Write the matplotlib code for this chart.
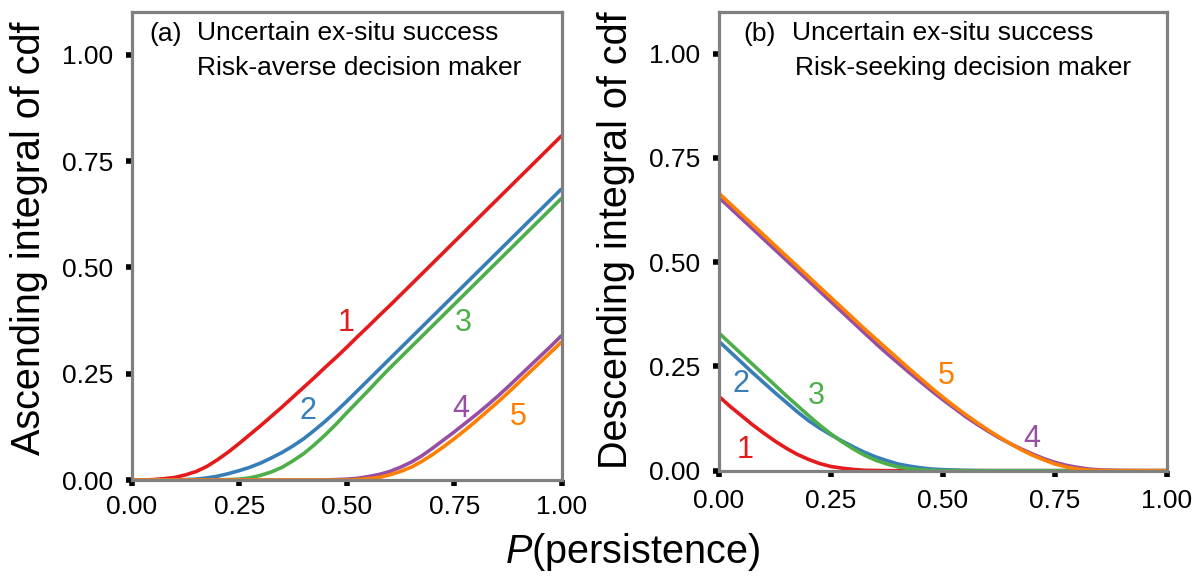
import matplotlib.pyplot as plt

plt.rcParams['font.family'] = ['Liberation Sans', 'DejaVu Sans']
plt.rcParams['mathtext.fontset'] = 'custom'
plt.rcParams['mathtext.it'] = 'Liberation Sans:italic'
plt.rcParams['mathtext.rm'] = 'Liberation Sans'

# values
x = [0.0, 0.025, 0.05, 0.075, 0.1, 0.125, 0.15, 0.175, 0.2, 0.225,
     0.25, 0.275, 0.3, 0.325, 0.35, 0.375, 0.4, 0.425, 0.45, 0.475,
     0.5, 0.525, 0.55, 0.575, 0.6, 0.625, 0.65, 0.675, 0.7, 0.725,
     0.75, 0.775, 0.8, 0.825, 0.85, 0.875, 0.9, 0.925, 0.95, 0.975, 1.0]

# (a) ascending integral of cdf, risk-averse
asc_1 = [0.0, 0.0, 0.001, 0.003, 0.006, 0.012, 0.02, 0.032, 0.048, 0.066,
         0.086, 0.107, 0.128, 0.15, 0.172, 0.195, 0.218, 0.241, 0.265, 0.288,
         0.312, 0.337, 0.361, 0.386, 0.41, 0.435, 0.46, 0.485, 0.51, 0.535,
         0.56, 0.585, 0.61, 0.635, 0.66, 0.685, 0.71, 0.735, 0.76, 0.785, 0.81]
asc_2 = [0.0, 0.0, 0.0, 0.0, 0.0, 0.001, 0.002, 0.005, 0.009, 0.015,
         0.022, 0.03, 0.04, 0.052, 0.065, 0.08, 0.097, 0.117, 0.138, 0.161,
         0.185, 0.21, 0.235, 0.26, 0.285, 0.31, 0.335, 0.36, 0.385, 0.41,
         0.435, 0.46, 0.485, 0.51, 0.535, 0.56, 0.585, 0.61, 0.635, 0.66, 0.685]
asc_3 = [0.0, 0.0, 0.0, 0.0, 0.0, 0.0, 0.0, 0.0, 0.0, 0.001,
         0.002, 0.005, 0.011, 0.019, 0.03, 0.045, 0.062, 0.083, 0.106, 0.131,
         0.158, 0.184, 0.21, 0.237, 0.263, 0.288, 0.313, 0.338, 0.363, 0.388,
         0.413, 0.438, 0.463, 0.488, 0.513, 0.538, 0.563, 0.588, 0.613, 0.638, 0.663]
asc_4 = [0.0, 0.0, 0.0, 0.0, 0.0, 0.0, 0.0, 0.0, 0.0, 0.0,
         0.0, 0.0, 0.0, 0.0, 0.0, 0.0, 0.0, 0.0, 0.0, 0.001,
         0.002, 0.004, 0.008, 0.013, 0.02, 0.03, 0.042, 0.057, 0.075, 0.094,
         0.113, 0.133, 0.153, 0.174, 0.196, 0.219, 0.243, 0.267, 0.291, 0.315, 0.34]
asc_5 = [0.0, 0.0, 0.0, 0.0, 0.0, 0.0, 0.0, 0.0, 0.0, 0.0,
         0.0, 0.0, 0.0, 0.0, 0.0, 0.0, 0.0, 0.0, 0.0, 0.0,
         0.0, 0.001, 0.003, 0.006, 0.012, 0.02, 0.03, 0.044, 0.06, 0.078,
         0.097, 0.117, 0.138, 0.16, 0.182, 0.205, 0.229, 0.253, 0.277, 0.301, 0.325]

# (b) descending integral of cdf, risk-seeking
desc_1 = [0.178, 0.154, 0.132, 0.11, 0.09, 0.071, 0.054, 0.039, 0.027, 0.017,
          0.01, 0.006, 0.003, 0.001, 0.0005, 0.0, 0.0, 0.0, 0.0, 0.0,
          0.0, 0.0, 0.0, 0.0, 0.0, 0.0, 0.0, 0.0, 0.0, 0.0,
          0.0, 0.0, 0.0, 0.0, 0.0, 0.0, 0.0, 0.0, 0.0, 0.0, 0.0]
desc_2 = [0.31, 0.285, 0.26, 0.235, 0.211, 0.187, 0.164, 0.141, 0.12, 0.102,
          0.086, 0.071, 0.057, 0.044, 0.033, 0.024, 0.016, 0.011, 0.007, 0.004,
          0.0025, 0.0015, 0.0008, 0.0003, 0.0, 0.0, 0.0, 0.0, 0.0, 0.0,
          0.0, 0.0, 0.0, 0.0, 0.0, 0.0, 0.0, 0.0, 0.0, 0.0, 0.0]
desc_3 = [0.33, 0.305, 0.28, 0.255, 0.23, 0.205, 0.18, 0.156, 0.132, 0.109,
          0.088, 0.069, 0.052, 0.037, 0.025, 0.016, 0.009, 0.005, 0.002, 0.001,
          0.0, 0.0, 0.0, 0.0, 0.0, 0.0, 0.0, 0.0, 0.0, 0.0,
          0.0, 0.0, 0.0, 0.0, 0.0, 0.0, 0.0, 0.0, 0.0, 0.0, 0.0]
desc_4 = [0.655, 0.63, 0.605, 0.58, 0.555, 0.53, 0.505, 0.48, 0.455, 0.43,
          0.405, 0.38, 0.355, 0.33, 0.305, 0.281, 0.258, 0.235, 0.213, 0.191,
          0.17, 0.15, 0.13, 0.112, 0.095, 0.079, 0.065, 0.052, 0.04, 0.029,
          0.02, 0.013, 0.008, 0.004, 0.002, 0.001, 0.0004, 0.0001, 0.0, 0.0, 0.0]
desc_5 = [0.665, 0.64, 0.615, 0.59, 0.565, 0.54, 0.515, 0.49, 0.465, 0.44,
          0.415, 0.39, 0.365, 0.34, 0.316, 0.292, 0.268, 0.244, 0.221, 0.198,
          0.176, 0.155, 0.135, 0.116, 0.098, 0.081, 0.065, 0.05, 0.037, 0.026,
          0.016, 0.009, 0.004, 0.0015, 0.0005, 0.0001, 0.0, 0.0, 0.0, 0.0, 0.0]

colors = ['#e41a1c', '#377eb8', '#4daf4a', '#984ea3', '#ff7f00']
ticks = [0.0, 0.25, 0.5, 0.75, 1.0]
tick_labels = ['0.00', '0.25', '0.50', '0.75', '1.00']

fig = plt.figure(figsize=(12.04, 5.78), dpi=100)
ax1 = fig.add_axes([131.7 / 1204, 98 / 578, 430 / 1204, 467.7 / 578])
ax2 = fig.add_axes([719 / 1204, 107.3 / 578, 448 / 1204, 458.7 / 578])


def style(ax, xpad):
    ax.set_xlim(0, 1)
    ax.set_ylim(0, 1.1)
    ax.set_xticks(ticks)
    ax.set_xticklabels(tick_labels)
    ax.set_yticks(ticks)
    ax.set_yticklabels(tick_labels)
    ax.tick_params(axis='both', direction='out', length=4.5, width=4,
                   color='black', labelsize=19)
    ax.tick_params(axis='x', pad=xpad)
    ax.tick_params(axis='y', pad=9)
    for sp in ax.spines.values():
        sp.set_color('#808080')
        sp.set_linewidth(2.3)


asc = [asc_1, asc_2, asc_3, asc_4, asc_5]
for ys, c in zip(asc, colors):
    ax1.plot(x, ys, color=c, lw=2.6, solid_capstyle='butt')
desc = [desc_1, desc_2, desc_3, desc_4, desc_5]
for ys, c in zip(desc, colors):
    ax2.plot(x, ys, color=c, lw=2.6, solid_capstyle='butt')

style(ax1, 6)
style(ax2, 9)

# curve number labels
lab_a = [(0.499, 0.369), (0.41, 0.162), (0.771, 0.369), (0.766, 0.166), (0.90, 0.149)]
lab_b = [(0.059, 0.05), (0.048, 0.209), (0.218, 0.178), (0.697, 0.077), (0.508, 0.227)]
for i in range(5):
    ax1.text(lab_a[i][0], lab_a[i][1], str(i + 1), color=colors[i], fontsize=22,
             ha='center', va='center')
    ax2.text(lab_b[i][0], lab_b[i][1], str(i + 1), color=colors[i], fontsize=22,
             ha='center', va='center')


# panel captions
def px(xp, yp):
    return xp / 1204, 1 - yp / 578


fig.text(*px(149, 40.5), '(a)', fontsize=19, va='baseline')
fig.text(*px(197, 40.5), 'Uncertain ex-situ success', fontsize=19, va='baseline')
fig.text(*px(197, 75), 'Risk-averse decision maker', fontsize=19, va='baseline')
fig.text(*px(743, 40.5), '(b)', fontsize=19, va='baseline')
fig.text(*px(792, 40.5), 'Uncertain ex-situ success', fontsize=19, va='baseline')
fig.text(*px(795, 75), 'Risk-seeking decision maker', fontsize=19, va='baseline')

# axis titles
fig.text(*px(29, 238), 'Ascending integral of cdf', fontsize=28.5, rotation=90,
         ha='center', va='center')
fig.text(*px(616, 240), 'Descending integral of cdf', fontsize=28.5, rotation=90,
         ha='center', va='center')
fig.text(*px(633, 563), r'$P$(persistence)', fontsize=28.5, ha='center', va='baseline')

fig.savefig('out.png', dpi=100)
